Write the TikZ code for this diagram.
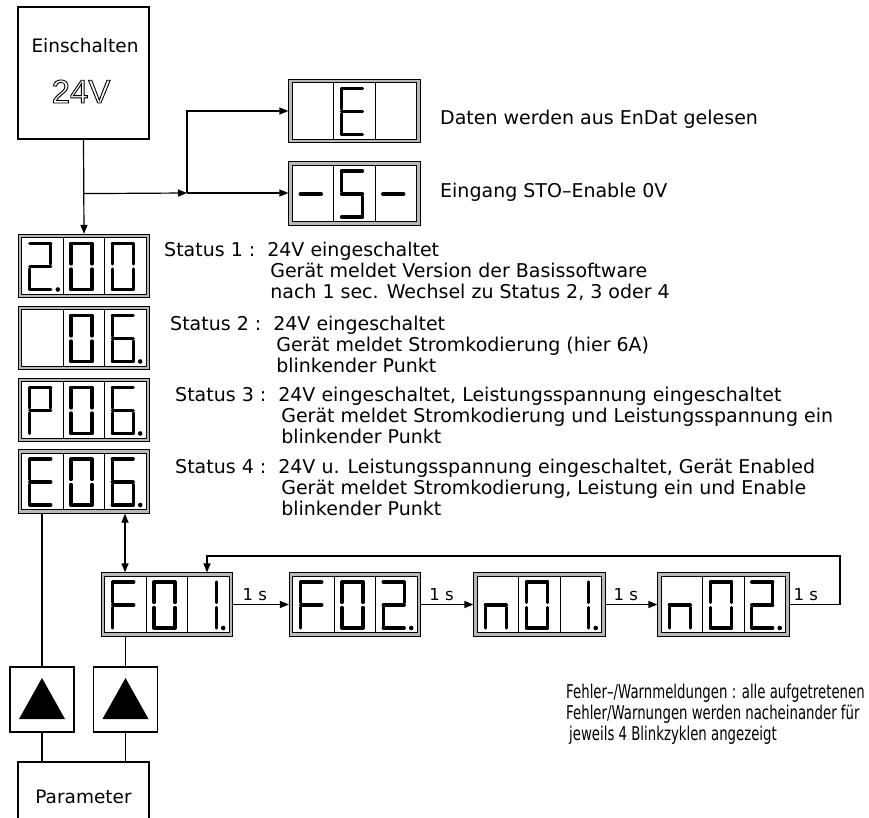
\documentclass[tikz,border=0pt]{standalone}
\usepackage{fontspec}
\setmainfont{DejaVu Sans}
\newfontfamily\bigfont{Liberation Sans}
\newfontfamily\narrowfont{DejaVu Sans}[FakeStretch=0.7]
\usetikzlibrary{arrows.meta, positioning, calc}

% segments of one digit, around the digit centre (y points down)
\newcommand{\segA}{\draw[segline] (-10.5,-23) -- (10.5,-23);}
\newcommand{\segB}{\draw[segline] (10.5,-23) -- (10.5,-2.5);}
\newcommand{\segC}{\draw[segline] (10.5,2.5) -- (10.5,23);}
\newcommand{\segD}{\draw[segline] (-10.5,23) -- (10.5,23);}
\newcommand{\segE}{\draw[segline] (-10.5,2.5) -- (-10.5,23);}
\newcommand{\segF}{\draw[segline] (-10.5,-23) -- (-10.5,-2.5);}
\newcommand{\segG}{\draw[segline] (-10.5,0) -- (10.5,0);}

\expandafter\newcommand\csname dig0\endcsname{\segA\segB\segC\segD\segE\segF}
\expandafter\newcommand\csname dig1\endcsname{\segB\segC}
\expandafter\newcommand\csname dig2\endcsname{\segA\segB\segD\segE\segG}
\expandafter\newcommand\csname dig6\endcsname{\segA\segC\segD\segE\segF\segG}
\expandafter\newcommand\csname digS\endcsname{\segA\segC\segD\segF\segG}
\expandafter\newcommand\csname digE\endcsname{\segA\segD\segE\segF\segG}
\expandafter\newcommand\csname digF\endcsname{\segA\segE\segF\segG}
\expandafter\newcommand\csname digP\endcsname{\segA\segB\segE\segF\segG}
\expandafter\newcommand\csname dign\endcsname{\segC\segE\segG}
\expandafter\newcommand\csname dig-\endcsname{\segG}
\expandafter\newcommand\csname dig\endcsname{}

% display with three digits: name, x, y, digits, cell with dot (0 = none)
\newcommand{\sevenseg}[7]{%
  \node[disp] (#1) at (#2,#3) {};
  \draw[cell] ($(#1.north)+(-20.6,4)$) -- ($(#1.south)+(-20.6,-4)$);
  \draw[cell] ($(#1.north)+(20.6,4)$) -- ($(#1.south)+(20.6,-4)$);
  \begin{scope}[shift={(#2-43.7,#3+0.5)}]\csname dig#4\endcsname\end{scope}
  \begin{scope}[shift={(#2-2.5,#3+0.5)}]\csname dig#5\endcsname\end{scope}
  \begin{scope}[shift={(#2+38.7,#3+0.5)}]\csname dig#6\endcsname\end{scope}
  \ifnum#7>0 \fill ({#2+(#7-2)*41.2+15},#3+23.5) circle (2.3pt);\fi
}

% outlined text (stroked glyphs)
\newcommand{\hollow}[1]{\special{pdf:literal 1 Tr 0.9 w}#1\special{pdf:literal 0 Tr 0.4 w}}

\begin{document}
\begin{tikzpicture}[
    x=1pt, y=-1pt,
    box/.style={
        rectangle,
        draw,
        line width=1.2pt,
        minimum width=131pt,
        inner sep=0pt
    },
    keybox/.style={
        rectangle,
        draw,
        line width=1.2pt,
        minimum width=64pt,
        minimum height=65pt
    },
    disp/.style={
        rectangle,
        draw,
        line width=0.9pt,
        double=black!28,
        double distance=2.4pt,
        minimum width=128pt,
        minimum height=60pt,
        outer sep=2.1pt,
        inner sep=0pt
    },
    cell/.style={line width=0.9pt},
    segline/.style={line width=3.3pt, line cap=round},
    txt/.style={font=\fontsize{19}{21}\selectfont, inner sep=0pt},
    note/.style={font=\narrowfont\fontsize{19}{21}\selectfont, inner sep=0pt},
    tick/.style={font=\fontsize{16.5}{18}\selectfont, inner sep=0pt},
    wire/.style={line width=1.2pt},
    arrow/.style={-{Triangle[length=9pt,width=7pt]}, line width=1.2pt},
    dblarrow/.style={{Triangle[length=9pt,width=7pt]}-{Triangle[length=9pt,width=7pt]}, line width=1.2pt}
]
\useasboundingbox (0,0) rectangle (869,818);

% --- switch on ---
\node[box, minimum height=132pt] (on) at (83.5,73) {};
\node[txt, anchor=base, font=\fontsize{18.5}{20}\selectfont] (onlbl) at (85,53) {Einschalten};
\node[anchor=base, inner sep=0pt, font=\bigfont\fontsize{33}{35}\selectfont] (volt) at (81,103) {\hollow{24V}};

% --- EnDat / STO displays ---
\sevenseg{dspE}{354.5}{111}{}{E}{}{0}
\sevenseg{dspS}{354.5}{193.5}{-}{S}{-}{0}
\node[txt, anchor=base west] (endat) at (440,125) {Daten werden aus EnDat gelesen};
\node[txt, anchor=base west] (sto) at (440,198) {Eingang STO–Enable 0V};

% --- status displays ---
\sevenseg{st1}{84}{266}{2}{0}{0}{1}
\sevenseg{st2}{84}{338}{}{0}{6}{3}
\sevenseg{st3}{84}{410}{P}{0}{6}{3}
\sevenseg{st4}{84}{481.5}{E}{0}{6}{3}

\node[txt, anchor=base west] (txt1) at (164,256.5) {\begin{tabular}[t]{@{}l@{\hspace{12pt}}l@{}}
  Status 1 : & 24V eingeschaltet\\
             & \hspace*{3pt}Gerät meldet Version der Basissoftware\\
             & \hspace*{3pt}nach 1 sec. Wechsel zu Status 2, 3 oder 4\end{tabular}};
\node[txt, anchor=base west] (txt2) at (170,330) {\begin{tabular}[t]{@{}l@{\hspace{12pt}}l@{}}
  Status 2 : & 24V eingeschaltet\\
             & \hspace*{3pt}Gerät meldet Stromkodierung (hier 6A)\\
             & \hspace*{3pt}blinkender Punkt\end{tabular}};
\node[txt, anchor=base west] (txt3) at (175,401.5) {\begin{tabular}[t]{@{}l@{\hspace{12pt}}l@{}}
  Status 3 : & 24V eingeschaltet, Leistungsspannung eingeschaltet\\
             & \hspace*{3pt}Gerät meldet Stromkodierung und Leistungsspannung ein\\
             & \hspace*{3pt}blinkender Punkt\end{tabular}};
\node[txt, anchor=base west] (txt4) at (175,473) {\begin{tabular}[t]{@{}l@{\hspace{12pt}}l@{}}
  Status 4 : & 24V u. Leistungsspannung eingeschaltet, Gerät Enabled\\
             & \hspace*{3pt}Gerät meldet Stromkodierung, Leistung ein und Enable\\
             & \hspace*{3pt}blinkender Punkt\end{tabular}};

% --- error / warning displays ---
\sevenseg{f01}{167}{604.5}{F}{0}{1}{3}
\sevenseg{f02}{355}{604.5}{F}{0}{2}{3}
\sevenseg{n01}{539.5}{604.5}{n}{0}{1}{3}
\sevenseg{n02}{723.5}{604.5}{n}{0}{2}{3}

\node[note, anchor=base west] (msg) at (566,698) {\begin{tabular}[t]{@{}l@{}}
  Fehler–/Warnmeldungen : alle aufgetretenen\\
  Fehler/Warnungen werden nacheinander für\\
  \hspace*{3pt}jeweils 4 Blinkzyklen angezeigt\end{tabular}};

% --- keys and parameter ---
\node[keybox] (keyA) at (42,699.5) {};
\node[keybox] (keyB) at (125.5,699.5) {};
\foreach \k in {keyA,keyB}
  \fill ($(\k.center)+(0,-21.5)$) -- ($(\k.center)+(23,19.5)$) -- ($(\k.center)+(-23,19.5)$) -- cycle;
\node[box, minimum height=70pt, font=\fontsize{18.5}{20}\selectfont] (param) at (83.5,797) {Parameter};

% ============================================================
%  connectors
% ============================================================
\coordinate (split) at ($(on.south)+(0,54)$);
\coordinate (fork) at (187,193);
\coordinate (loop) at (840,556);

\draw[arrow] (on.south) -- (st1.north);
\draw[arrow] (split) -- (fork);
\draw[arrow] (fork) -- (fork -| dspS.west);
\draw[arrow] (fork) |- (dspE.west);

\draw[dblarrow] ([xshift=41pt]st4.south) -- ([xshift=41pt]st4.south |- f01.north);

\draw[arrow] (f01.east) -- (f02.west) node[tick, pos=0.39, above=3.5pt] {1 s};
\draw[arrow] (f02.east) -- (n01.west) node[tick, pos=0.39, above=3.5pt] {1 s};
\draw[arrow] (n01.east) -- (n02.west) node[tick, pos=0.39, above=3.5pt] {1 s};
\draw[arrow] (n02.east) -| node[tick, pos=0.16, above=3.5pt] {1 s} (loop) -| ([xshift=40pt]f01.north);

\draw[wire] (keyA.north |- st4.south) -- (keyA.north);
\draw[wire] (keyB.north |- f01.south) -- (keyB.north);
\draw[wire] (keyA.south) -- (keyA.south |- param.north);
\draw[wire] (keyB.south) -- (keyB.south |- param.north);

\end{tikzpicture}
\end{document}
